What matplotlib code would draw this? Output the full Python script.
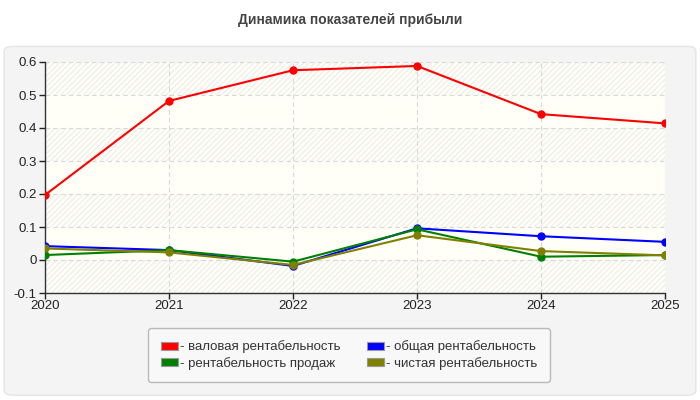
import numpy as np
import matplotlib.pyplot as plt
from matplotlib.patches import FancyBboxPatch, Patch

years = [2020, 2021, 2022, 2023, 2024, 2025]
gross = [0.197, 0.482, 0.575, 0.588, 0.442, 0.414]
total = [0.042, 0.030, -0.018, 0.096, 0.072, 0.055]
sales = [0.015, 0.030, -0.005, 0.093, 0.010, 0.015]
net = [0.035, 0.023, -0.015, 0.075, 0.027, 0.014]

labels = ['- валовая рентабельность', '- общая рентабельность',
          '- рентабельность продаж', '- чистая рентабельность']
colors = ['#ff0000', '#0000ff', '#008000', '#808000']
yticks = [-0.1, 0, 0.1, 0.2, 0.3, 0.4, 0.5, 0.6]
ytick_labels = ['-0.1', '0', '0.1', '0.2', '0.3', '0.4', '0.5', '0.6']

plt.rcParams['font.family'] = ['Liberation Sans', 'DejaVu Sans']

fig = plt.figure(figsize=(7, 4), dpi=100)
fig.patch.set_facecolor('white')

# grey rounded panel behind the chart
panel = FancyBboxPatch((0.006, 0.012), 0.988, 0.872,
                       boxstyle='round,pad=0,rounding_size=0.012',
                       transform=fig.transFigure, facecolor='#f4f4f4',
                       edgecolor='#e4e4e4', linewidth=1, zorder=-5)
fig.patches.append(panel)

fig.text(0.5, 0.95, 'Динамика показателей прибыли', ha='center', va='center',
         fontsize=10, fontweight='bold', color='#444444')

ax = fig.add_axes([45 / 700, 1 - 293 / 400, 620 / 700, 231 / 400])
ax.set_facecolor('#fffff8')

# alternating hatched bands
for i in range(len(yticks) - 1):
    if i % 2 == 0:
        ax.axhspan(yticks[i], yticks[i + 1], facecolor='none', hatch='//////',
                   edgecolor='#efefef', linewidth=0, zorder=0)

ax.grid(True, color='#d8d8d8', linestyle=(0, (4, 3)), linewidth=0.8)
ax.set_axisbelow(True)

series = [gross, total, sales, net]
for vals, c in zip(series, colors):
    ax.plot(years, vals, color=c, linewidth=1.5, marker='o', markersize=5, zorder=3)

ax.set_xlim(years[0], years[-1])
ax.set_ylim(-0.1, 0.6)
ax.set_xticks(years)
ax.set_yticks(yticks)
ax.set_yticklabels(ytick_labels)
ax.tick_params(axis='both', labelsize=9.5, colors='#222222', length=4, width=1,
               direction='out', pad=2)
ax.tick_params(axis='x', pad=1)
for s in ['top', 'right']:
    ax.spines[s].set_visible(False)
for s in ['left', 'bottom']:
    ax.spines[s].set_color('#333333')
    ax.spines[s].set_linewidth(1)

# legend fills column-wise, so reorder to get rows: red/blue, green/olive
order = [0, 2, 1, 3]
handles = [Patch(facecolor=colors[i], edgecolor='#999999', linewidth=0.8) for i in order]
leg_labels = [labels[i] for i in order]
leg = fig.legend(handles, leg_labels, ncol=2, loc='center', bbox_to_anchor=(0.4986, 0.1125),
                 fontsize=9.5, frameon=True, fancybox=True, handlelength=1.3,
                 handleheight=0.6, handletextpad=0.15, columnspacing=2.0,
                 labelspacing=0.25, borderpad=0.95, labelcolor='#333333')
leg.get_frame().set_facecolor('#fafafa')
leg.get_frame().set_edgecolor('#aaaaaa')
leg.get_frame().set_linewidth(1)

fig.savefig('out.png', dpi=100)
